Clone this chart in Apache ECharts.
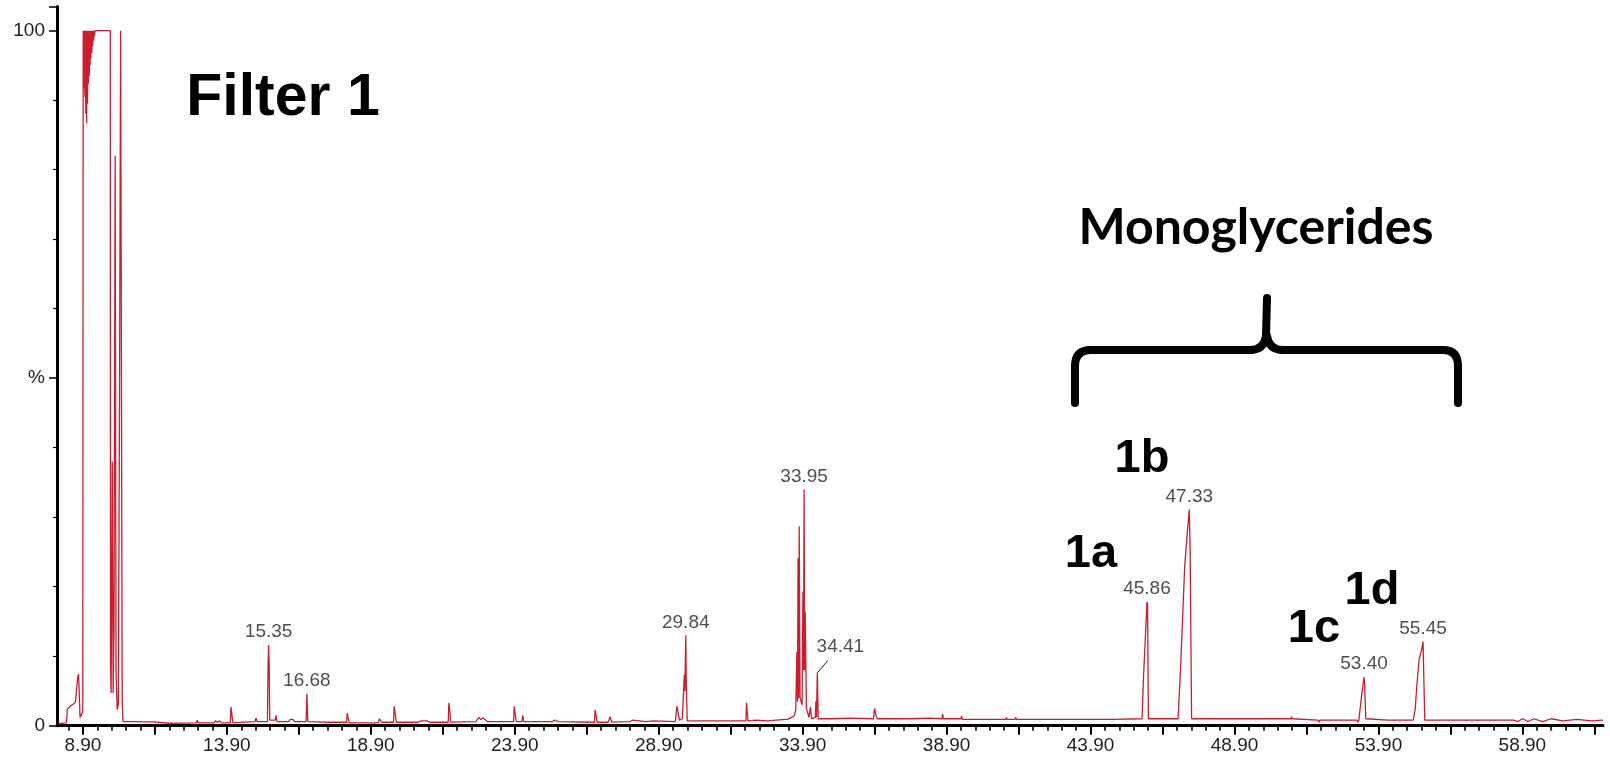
<!DOCTYPE html>
<html><head><meta charset="utf-8">
<script src="https://cdn.jsdelivr.net/npm/echarts@6.0.0/dist/echarts.min.js"></script>
<style>html,body{margin:0;padding:0;background:#fff}#c{width:1610px;height:762px}</style>
</head><body><div id="c"></div>
<script>
// Chromatogram trace: [retention time (min), relative abundance (%)]
const trace = [
 [8.02,0.3],[8.33,0.4],[8.36,2.4],[8.46,2.8],[8.56,3.1],[8.64,3.4],[8.69,5.6],[8.72,7.0],[8.75,7.4],[8.77,5.0],[8.80,1.2],[8.86,1.0],[8.895,2.0],
 [8.91,100],[8.93,100],[8.945,91.7],[8.955,100],[8.97,90.5],[8.985,100],[9.00,88.0],[9.015,100],[9.03,86.7],[9.045,100],[9.06,89.5],[9.075,100],
 [9.09,92.4],[9.105,100],[9.12,93.5],[9.135,100],[9.15,95.0],[9.165,100],[9.18,96.0],[9.195,100],[9.21,96.8],[9.225,100],[9.24,97.8],[9.255,100],
 [9.27,98.6],[9.285,100],[9.30,99.2],[9.32,100],[9.85,100],[9.86,9.0],[9.88,4.7],[9.92,38],[9.95,4.7],[9.98,14],[10.02,82],[10.05,8],[10.09,2.3],
 [10.13,3.0],[10.17,45],[10.21,100],[10.24,100],[10.265,4],[10.29,0.6],
 [10.6,0.6],[11.0,0.55],[11.33,0.55],[11.38,0.35],[11.9,0.35],[12.84,0.4],[12.87,0.8],[12.90,0.4],[13.45,0.4],[13.5,0.7],[13.58,0.5],[13.65,0.7],[13.72,0.4],
 [14.02,0.4],[14.04,2.7],[14.09,2.7],[14.11,0.4],[14.5,0.5],[14.88,0.6],[14.91,1.1],[14.95,0.6],
 [15.31,0.6],[15.33,8.7],[15.35,11.6],[15.37,8.6],[15.39,0.8],[15.58,0.8],[15.61,1.5],[15.64,0.6],[16.05,0.6],[16.1,0.9],[16.2,0.9],[16.25,0.6],
 [16.65,0.6],[16.68,4.6],[16.71,0.6],[17.3,0.5],[17.8,0.5],[18.06,0.5],[18.08,1.8],[18.13,1.8],[18.15,0.4],[19.16,0.4],[19.2,1.0],[19.28,0.5],
 [19.69,0.5],[19.71,2.8],[19.77,2.7],[19.79,0.5],[20.55,0.5],[20.65,0.7],[20.85,0.7],[20.95,0.5],[21.59,0.5],[21.61,3.3],[21.65,2.0],[21.67,0.5],
 [22.55,0.6],[22.65,1.2],[22.72,0.9],[22.8,1.1],[22.95,0.6],[23.86,0.6],[23.88,2.8],[23.93,2.6],[23.95,0.6],[24.15,0.6],[24.18,1.5],[24.21,0.6],
 [25.2,0.6],[25.3,0.8],[25.4,0.6],[26.67,0.5],[26.69,2.3],[26.74,2.3],[26.76,0.5],[27.15,0.5],[27.21,1.3],[27.27,0.5],[27.9,0.6],[28.0,0.8],[28.05,0.6],
 [28.45,0.6],[28.7,0.7],[29.48,0.6],[29.53,2.8],[29.57,2.0],[29.62,0.8],[29.72,1.0],[29.79,7.3],[29.81,5],[29.84,13.0],[29.86,6],[29.89,0.7],
 [30.5,0.7],[31.4,0.7],[31.93,0.7],[31.95,3.3],[31.98,3.3],[32.0,0.7],[32.3,0.8],[32.67,0.7],[32.7,0.95],[33.4,0.95],[33.6,1.4],[33.66,2.2],
 [33.70,10.6],[33.72,3.5],[33.74,24.1],[33.76,4],[33.78,28.7],[33.81,4],[33.88,3],[33.91,19.3],[33.93,8],[33.95,34.0],[33.97,8],[33.99,16.4],
 [34.03,2.5],[34.12,1.2],[34.17,2.7],[34.21,1.0],[34.34,1.2],[34.36,3.5],[34.38,1.2],[34.41,7.6],[34.44,1.0],[34.9,1.0],[35.5,1.1],
 [36.36,1.0],[36.40,2.5],[36.45,1.4],[36.5,1.0],[37.6,1.0],[38.3,1.1],[38.74,1.0],[38.76,1.7],[38.79,1.0],[39.40,1.0],[39.42,1.4],[39.45,0.9],
 [40.96,0.9],[40.98,1.2],[41.0,0.9],[41.28,0.9],[41.3,1.2],[41.33,0.9],[44.66,0.9],[44.68,1.1],[44.70,1.0],
 [45.69,1.0],[45.74,7.0],[45.79,11.4],[45.86,17.8],[45.88,17.5],[45.91,1.0],
 [46.94,1.0],[47.02,7.6],[47.17,22.9],[47.25,27.2],[47.33,31.1],[47.36,25],[47.41,1.0],
 [50.86,1.0],[50.88,1.3],[50.90,1.0],[51.8,0.8],[51.83,0.5],[51.87,0.8],[53.15,0.8],[53.18,0.5],[53.22,0.8],
 [53.26,0.8],[53.32,4.5],[53.40,7.0],[53.42,6.1],[53.46,1.0],[53.51,0.8],[54.24,0.8],[54.26,1.0],[54.28,0.8],
 [55.11,0.8],[55.18,2.5],[55.23,5.6],[55.31,9.5],[55.40,10.9],[55.45,12.1],[55.47,8],[55.51,0.8],
 [58.6,0.8],[58.75,0.6],[58.9,1.0],[59.1,0.6],[59.3,1.0],[59.6,0.6],[59.9,1.0],[60.3,0.7],[60.8,0.9],[61.3,0.7],[61.7,0.8]
];

// Labelled peaks
const peakLabels  = ['15.35','16.68','29.84','33.95','34.41','45.86','47.33','53.40','55.45'];
const peakTimes   = [15.35, 16.68, 29.84, 33.95, 34.41, 45.86, 47.33, 53.40, 55.45];
const peakHeights = [11.6, 4.6, 13.0, 34.0, 7.6, 17.8, 31.1, 7.0, 12.1];
// leader line for the offset 34.41 label: [time, %] end points
const leader = [[34.41, 7.6], [34.78, 9.4]];

// Axis tick labels
const xTickValues = [8.9, 13.9, 18.9, 23.9, 28.9, 33.9, 38.9, 43.9, 48.9, 53.9, 58.9];
const yTickLabels = {0: '0', 50: '%', 100: '100'};

const X_MIN = 8.0, X_MAX = 61.7;
const majorTicks = [], minorTicks = [];
for (let k = 0; 8.9 + 2.5 * k <= X_MAX; k++) majorTicks.push(+(8.9 + 2.5 * k).toFixed(2));
for (let k = 0; 8.4 + 0.5 * k <= X_MAX; k++) minorTicks.push(+(8.4 + 0.5 * k).toFixed(2));

const FONT = '"Liberation Sans", Arial, sans-serif';
const braceStyle = {stroke: '#000', lineWidth: 8, lineCap: 'round', lineJoin: 'round', fill: null};
const seg = (x1, y1, x2, y2) => ({type: 'line', shape: {x1, y1, x2, y2}, style: braceStyle, z: 10});
const curve = (x1, y1, cx, cy, x2, y2) => ({type: 'bezierCurve', shape: {x1, y1, cpx1: cx, cpy1: cy, x2, y2}, style: braceStyle, z: 10});
const label = (t, x, y) => ({type: 'text', x, y, z: 10, style: {text: t, font: 'bold 47px ' + FONT, fill: '#000', align: 'center', verticalAlign: 'middle'}});

const chart = echarts.init(document.getElementById('c'), null, {renderer: 'canvas'});
chart.setOption({
  animation: false,
  backgroundColor: '#fff',
  grid: {left: 57, right: 7, top: 6.4, bottom: 36.3, containLabel: false},
  xAxis: [{
    type: 'value', min: X_MIN, max: X_MAX, position: 'bottom',
    axisLine: {show: true, onZero: false, lineStyle: {color: '#000', width: 3}},
    axisTick: {show: true, customValues: majorTicks, length: 9, lineStyle: {color: '#000', width: 2}},
    axisLabel: {show: true, customValues: xTickValues, formatter: v => v.toFixed(2), margin: 11,
      color: '#222', fontSize: 19, fontFamily: FONT},
    splitLine: {show: false}
  }, {
    type: 'value', min: X_MIN, max: X_MAX, position: 'bottom', offset: 0,
    axisLine: {show: false},
    axisTick: {show: true, customValues: minorTicks, length: 5, lineStyle: {color: '#000', width: 1.6}},
    axisLabel: {show: false},
    splitLine: {show: false}
  }],
  yAxis: {
    type: 'value', min: 0, max: 103.5, interval: 50,
    axisLine: {show: true, lineStyle: {color: '#000', width: 3}},
    axisTick: {show: true, length: 8, lineStyle: {color: '#000', width: 1.5}},
    minorTick: {show: true, splitNumber: 5, length: 4, lineStyle: {color: '#000', width: 1.2}},
    axisLabel: {formatter: v => (yTickLabels[v] !== undefined ? yTickLabels[v] : ''), margin: 12,
      color: '#222', fontSize: 19, fontFamily: FONT},
    splitLine: {show: false}
  },
  series: [{
    type: 'line', data: trace, showSymbol: false, symbol: 'none',
    lineStyle: {color: '#c81e2e', width: 1.3}, silent: true, z: 2
  }, {
    type: 'scatter', symbolSize: 1, itemStyle: {color: 'rgba(0,0,0,0)'}, silent: true, z: 3,
    data: peakTimes.map((t, i) => ({value: [t, peakHeights[i]], name: peakLabels[i]})),
    label: {show: true, position: 'top', distance: 3, formatter: p => p.name,
      color: '#222', fontSize: 19, fontFamily: FONT},
    labelLayout: p => (p.dataIndex === 4 ? {dx: 23, dy: -13} : {}),
    markLine: {
      silent: true, symbol: ['none', 'none'], label: {show: false},
      lineStyle: {color: '#222', width: 1, type: 'solid'},
      data: [[{coord: leader[0]}, {coord: leader[1]}]]
    }
  }],
  graphic: [
    {type: 'text', x: 283, y: 99, z: 10, style: {text: 'Filter 1', font: 'bold 59px ' + FONT, fill: '#000', align: 'center', verticalAlign: 'middle'}},
    {type: 'text', x: 1256, y: 228, z: 10, style: {text: 'Monoglycerides', font: 'bold 50px Lato, "Open Sans", sans-serif', fill: '#000', align: 'center', verticalAlign: 'middle'}},
    seg(1075, 403, 1075, 366), curve(1075, 366, 1075, 350, 1091, 350), seg(1091, 350, 1250, 350),
    curve(1250, 350, 1264, 350, 1266, 336), seg(1266, 336, 1267, 298),
    curve(1267, 336, 1269, 350, 1283, 350), seg(1283, 350, 1443, 350),
    curve(1443, 350, 1458, 350, 1458, 366), seg(1458, 366, 1458, 403),
    label('1a', 1091, 554), label('1b', 1142, 459), label('1c', 1314, 629), label('1d', 1372, 591)
  ]
});
</script>
</body></html>
